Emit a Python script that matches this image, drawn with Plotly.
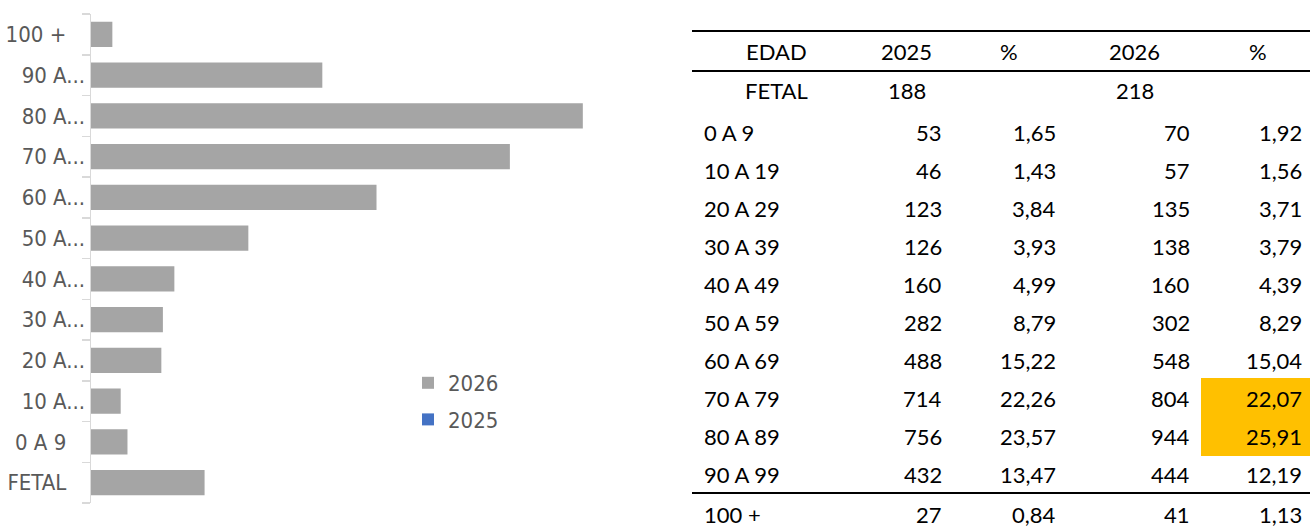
import plotly.graph_objects as go

# ---------------- data ----------------
edad = ["FETAL", "0 A 9", "10 A 19", "20 A 29", "30 A 39", "40 A 49",
        "50 A 59", "60 A 69", "70 A 79", "80 A 89", "90 A 99", "100 +"]
tick_labels = ["FETAL", "0 A 9", "10 A...", "20 A...", "30 A...", "40 A...",
               "50 A...", "60 A...", "70 A...", "80 A...", "90 A...", "100 +"]
val_2025 = [188, 53, 46, 123, 126, 160, 282, 488, 714, 756, 432, 27]
pct_2025 = [None, 1.65, 1.43, 3.84, 3.93, 4.99, 8.79, 15.22, 22.26, 23.57, 13.47, 0.84]
val_2026 = [218, 70, 57, 135, 138, 160, 302, 548, 804, 944, 444, 41]
pct_2026 = [None, 1.92, 1.56, 3.71, 3.79, 4.39, 8.29, 15.04, 22.07, 25.91, 12.19, 1.13]
header = ["EDAD", "2025", "%", "2026", "%"]
highlight_rows = ["70 A 79", "80 A 89"]

W, H = 1310, 527
def px(x):
    return x / W
def py(y):
    return 1 - y / H

NARROW = "Liberation Sans Narrow, Arial Narrow, DejaVu Sans Condensed, sans-serif"
TABLE_FONT = "Lato, Carlito, Calibri, sans-serif"
GRAY_TXT = "#595959"

fig = go.Figure()

# chart: 2026 series drawn, 2025 series appears only in legend (no bars shown)
NB = "\u00a0"
shown_ticks = [t if t.endswith("...") else t + NB * 3 for t in tick_labels]

fig.add_trace(go.Bar(
    y=edad, x=val_2026, orientation="h", name="2026",
    marker=dict(color="#A5A5A5", line=dict(width=0)),
    legendgroup="a", hoverinfo="skip"))
fig.add_trace(go.Bar(
    y=edad, x=[None] * len(edad), orientation="h", name="2025",
    marker=dict(color="#4472C4", line=dict(width=0)),
    legendgroup="b", hoverinfo="skip"))

fig.update_layout(
    width=W, height=H,
    margin=dict(l=0, r=0, t=0, b=0),
    paper_bgcolor="white", plot_bgcolor="white",
    barmode="overlay", bargap=0.38,
    showlegend=True,
    legend=dict(x=px(408), y=py(362), xanchor="left", yanchor="top",
                font=dict(family=NARROW, size=22, color=GRAY_TXT),
                bgcolor="rgba(0,0,0,0)", traceorder="grouped",
                tracegroupgap=5, itemwidth=30),
    xaxis=dict(domain=[px(91), px(612)], range=[0, 1000], visible=False,
               fixedrange=True),
    yaxis=dict(domain=[py(503), py(14)], type="category",
               categoryorder="array", categoryarray=edad,
               tickmode="array", tickvals=edad, ticktext=shown_ticks,
               showline=True, linecolor="#D9D9D9", linewidth=1.5,
               ticks="outside", ticklen=8, tickwidth=1.5, tickcolor="#D9D9D9",
               tickson="boundaries", showgrid=False, zeroline=False,
               tickfont=dict(family=NARROW, size=22, color=GRAY_TXT),
               fixedrange=True),
)

# ---------------- table ----------------
shapes = []
annotations = []

row_y = {}
row_y["header"] = 51
row_y[edad[0]] = 91
for k, name in enumerate(edad[1:-1]):
    row_y[name] = 132.5 + 38 * k
row_y[edad[-1]] = 514

shapes.append(dict(type="rect", xref="paper", yref="paper",
                   x0=px(1201), x1=px(1310), y0=py(378), y1=py(456),
                   fillcolor="#FFC000", line=dict(width=0), layer="below"))
for yy in (31, 71, 493):
    shapes.append(dict(type="line", xref="paper", yref="paper",
                       x0=px(692), x1=px(1310), y0=py(yy), y1=py(yy),
                       line=dict(color="black", width=2)))

def txt(text, x, y, anchor):
    annotations.append(dict(text=text, x=px(x), y=py(y), xref="paper", yref="paper",
                            xanchor=anchor, yanchor="middle", showarrow=False,
                            borderpad=0,
                            font=dict(family=TABLE_FONT, size=22, color="black")))

header_x = [776, 906, 1009, 1134.5, 1257.5]
for h, x in zip(header, header_x):
    txt(h, x, row_y["header"], "center")

def fmt(v):
    return f"{v:.2f}".replace(".", ",")

for i, name in enumerate(edad):
    y = row_y[name]
    if pct_2025[i] is None:
        txt(name, 776, y, "center")
        txt(str(val_2025[i]), 906.5, y, "center")
        txt(str(val_2026[i]), 1134.5, y, "center")
        continue
    txt(name, 703, y, "left")
    txt(str(val_2025[i]), 943, y, "right")
    txt(fmt(pct_2025[i]), 1057, y, "right")
    txt(str(val_2026[i]), 1191, y, "right")
    txt(fmt(pct_2026[i]), 1303, y, "right")

fig.update_layout(shapes=shapes, annotations=annotations)
fig.write_html(
    "out.html",
    config={"displayModeBar": False, "staticPlot": True},
    post_script="document.body.style.margin='0';document.body.style.overflow='hidden';"
                "document.documentElement.style.overflow='hidden';",
)
